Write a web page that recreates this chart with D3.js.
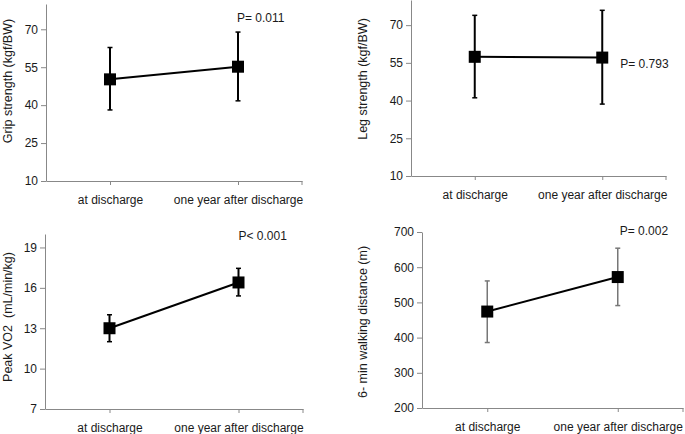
<!DOCTYPE html>
<html>
<head>
<meta charset="utf-8">
<script src="https://cdn.jsdelivr.net/npm/d3@7"></script>
<style>
  body { margin: 0; background: #fff; }
  svg { display: block; font-family: "Liberation Sans", Arial, sans-serif; }
  svg text { white-space: pre; }
  .tick text { font-size: 12px; fill: #1a1a1a; }
</style>
</head>
<body>
<div id="chart"></div>
<script>
// categories shared by all four panels
var categories = ["at discharge", "one year after discharge"];

// grip strength (kgf/BW)
var gripMean = [50.2, 55.2];
var gripLow = [38.1, 41.7];
var gripHigh = [62.8, 68.9];
var gripTicks = [10, 25, 40, 55, 70];

// leg strength (kgf/BW)
var legMean = [57.4, 57.1];
var legLow = [41.1, 38.6];
var legHigh = [73.9, 75.9];
var legTicks = [10, 25, 40, 55, 70];

// peak VO2 (mL/min/kg)
var vo2Mean = [13.0, 16.4];
var vo2Low = [12.0, 15.4];
var vo2High = [14.0, 17.45];
var vo2Ticks = [7, 10, 13, 16, 19];

// 6-min walking distance (m)
var walkMean = [474, 572];
var walkLow = [386, 491];
var walkHigh = [561, 654];
var walkTicks = [200, 300, 400, 500, 600, 700];

var svg = d3.select("#chart").append("svg")
    .attr("width", 685)
    .attr("height", 434);

function draw_panel(p){
    var x = d3.scalePoint()
        .domain(categories)
        .range([p.left, p.right])
        .padding(0.5);

    var y = d3.scaleLinear()
        .domain(p.domain)
        .range([p.bottom, p.top]);

    var g = svg.append("g");

    // y axis
    var ya = g.append("g")
        .attr("transform", "translate(" + p.left + ",0)")
        .call(d3.axisLeft(y).tickValues(p.ticks).tickSizeInner(5).tickSizeOuter(0).tickPadding(3));
    ya.select(".domain").attr("stroke", "#888");
    ya.selectAll(".tick line").attr("stroke", "#888");

    // x axis
    var xa = g.append("g")
        .attr("transform", "translate(0," + p.bottom + ")")
        .call(d3.axisBottom(x).tickSizeInner(4).tickSizeOuter(0).tickPadding(10));
    xa.select(".domain").attr("stroke", "#888");
    xa.selectAll(".tick line").attr("stroke", "#888");
    xa.append("line")
        .attr("x1", x.range()[1]).attr("x2", x.range()[1])
        .attr("y1", 0).attr("y2", 4)
        .attr("stroke", "#888");

    // axis title
    g.append("text")
        .attr("transform", "translate(" + (p.left + p.titleOffset) + "," + p.titleY + ") rotate(-90)")
        .attr("text-anchor", "middle")
        .attr("font-size", 12.5)
        .attr("fill", "#1a1a1a")
        .text(p.title);

    var rows = categories.map(function(c, i){
        return {cat: c, mean: p.mean[i], low: p.low[i], high: p.high[i]};
    });

    // error bars
    var eb = g.selectAll(".err").data(rows).enter().append("g");
    eb.append("line")
        .attr("x1", d => x(d.cat)).attr("x2", d => x(d.cat))
        .attr("y1", d => y(d.low)).attr("y2", d => y(d.high))
        .attr("stroke", p.errColor).attr("stroke-width", p.errWidth);
    eb.append("line")
        .attr("x1", d => x(d.cat) - 2.5).attr("x2", d => x(d.cat) + 2.5)
        .attr("y1", d => y(d.low)).attr("y2", d => y(d.low))
        .attr("stroke", p.errColor).attr("stroke-width", 1.5);
    eb.append("line")
        .attr("x1", d => x(d.cat) - 2.5).attr("x2", d => x(d.cat) + 2.5)
        .attr("y1", d => y(d.high)).attr("y2", d => y(d.high))
        .attr("stroke", p.errColor).attr("stroke-width", 1.5);

    // line between means
    g.append("path")
        .datum(rows)
        .attr("fill", "none")
        .attr("stroke", "#000")
        .attr("stroke-width", 2)
        .attr("d", d3.line()
            .x(function(d) { return x(d.cat) })
            .y(function(d) { return y(d.mean) })
        );

    // square markers
    g.selectAll(".pt").data(rows).enter().append("rect")
        .attr("x", d => x(d.cat) - 6)
        .attr("y", d => y(d.mean) - 6)
        .attr("width", 12)
        .attr("height", 12)
        .attr("fill", "#000");

    // p value
    g.append("text")
        .attr("x", x(categories[1]) + p.pdx)
        .attr("y", p.py)
        .attr("font-size", 12)
        .attr("fill", "#1a1a1a")
        .text(p.pText);
}

draw_panel({left: 46, right: 302, top: 4, bottom: 181, domain: [10, 80], ticks: gripTicks,
    mean: gripMean, low: gripLow, high: gripHigh, title: "Grip strength (kgf/BW)",
    titleOffset: -34, titleY: 81, pText: "P= 0.011", pdx: -1, py: 22,
    errColor: "#000", errWidth: 2});

draw_panel({left: 411, right: 666, top: 0, bottom: 176, domain: [10, 80], ticks: legTicks,
    mean: legMean, low: legLow, high: legHigh, title: "Leg strength (kgf/BW)",
    titleOffset: -44, titleY: 79, pText: "P= 0.793", pdx: 18, py: 68,
    errColor: "#000", errWidth: 2});

draw_panel({left: 45, right: 303, top: 234, bottom: 409, domain: [7, 20], ticks: vo2Ticks,
    mean: vo2Mean, low: vo2Low, high: vo2High, title: "Peak VO2  (mL/min/kg)",
    titleOffset: -33, titleY: 317, pText: "P< 0.001", pdx: 0, py: 240,
    errColor: "#000", errWidth: 2});

draw_panel({left: 422, right: 683, top: 232, bottom: 408, domain: [200, 700], ticks: walkTicks,
    mean: walkMean, low: walkLow, high: walkHigh, title: "6- min walking distance (m)",
    titleOffset: -55, titleY: 322, pText: "P= 0.002", pdx: 2, py: 235,
    errColor: "#777", errWidth: 1.5});
</script>
</body>
</html>
